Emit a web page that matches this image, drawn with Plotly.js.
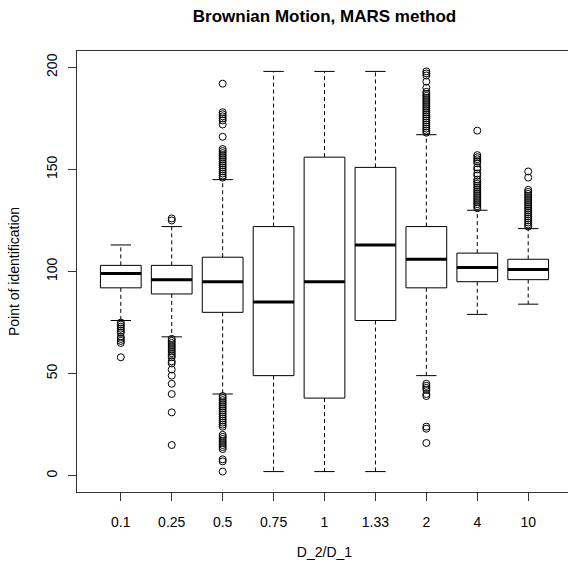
<!DOCTYPE html>
<html>
<head>
<meta charset="utf-8">
<script src="https://cdn.plot.ly/plotly-3.0.1.min.js"></script>
<style>
html,body{margin:0;padding:0;overflow:hidden;background:#fff;}
#chart{width:575px;height:562px;}
</style>
</head>
<body>
<div id="chart"></div>
<script>
const categories = ['0.1','0.25','0.5','0.75','1','1.33','2','4','10'];
const whiskerLow  = [76, 68, 40, 2, 2, 2, 49, 79, 84];
const q1          = [92, 89, 80, 49, 38, 76, 92, 95, 96];
const median      = [99, 96, 95, 85, 95, 113, 106, 102, 101];
const q3          = [103, 103, 107, 122, 156, 151, 122, 109, 106];
const whiskerHigh = [113, 122, 145, 198, 198, 198, 167, 130, 121];

const out_01  = [75, 74, 73, 72, 71, 70, 68, 67, 66, 65, 58];
const out_025 = [126, 125, 67, 66, 65, 64, 63, 62, 61, 60, 59, 58, 56, 55, 52, 49, 45, 40, 31, 15];
const out_05  = [192, 178, 177, 176, 175, 174, 172, 166, 160, 159, 158, 157, 156, 155, 154, 153, 152, 151, 150, 149, 148, 147, 146,
                 39, 38, 37, 36, 35, 34, 33, 32, 31, 30, 29, 28, 27, 26, 25, 24, 20, 19, 18, 17, 16, 15, 14, 13, 8, 7, 2];
const out_075 = [];
const out_1   = [];
const out_133 = [];
const out_2   = [198, 197, 196, 193, 190, 188, 187, 186, 185, 184, 183, 182, 181, 180, 179, 178, 177, 176, 175, 174, 173, 172, 171, 170, 169, 168,
                 45, 44, 43, 42, 40, 39, 24, 23, 16];
const out_4   = [169, 157, 156, 155, 154, 153, 151, 150, 148, 147, 145, 144, 143, 142, 141, 140, 139, 138, 137, 136, 135, 134, 133, 132, 131];
const out_10  = [149, 146, 140, 139, 138, 137, 136, 135, 134, 133, 132, 131, 130, 129, 128, 127, 126, 125, 124, 123, 122];
const outliers = [out_01, out_025, out_05, out_075, out_1, out_133, out_2, out_4, out_10];

const BOX_HALF = 0.4, STAPLE_HALF = 0.2;
const pos = categories.map((c, i) => i + 1);

const boxX = [], boxY = [], medX = [], medY = [], whX = [], whY = [], stX = [], stY = [], oX = [], oY = [];
pos.forEach((p, i) => {
  boxX.push(p - BOX_HALF, p + BOX_HALF, p + BOX_HALF, p - BOX_HALF, p - BOX_HALF, null);
  boxY.push(q1[i], q1[i], q3[i], q3[i], q1[i], null);
  medX.push(p - BOX_HALF, p + BOX_HALF, null);
  medY.push(median[i], median[i], null);
  whX.push(p, p, null, p, p, null);
  whY.push(q3[i], whiskerHigh[i], null, q1[i], whiskerLow[i], null);
  stX.push(p - STAPLE_HALF, p + STAPLE_HALF, null, p - STAPLE_HALF, p + STAPLE_HALF, null);
  stY.push(whiskerHigh[i], whiskerHigh[i], null, whiskerLow[i], whiskerLow[i], null);
  outliers[i].forEach(v => { oX.push(p); oY.push(v); });
});

const font = 'Liberation Sans, Arial, sans-serif';
const traces = [
  {x: whX, y: whY, mode: 'lines', line: {color: '#000', width: 1, dash: '4px,3px'}, hoverinfo: 'skip'},
  {x: stX, y: stY, mode: 'lines', line: {color: '#000', width: 1}, hoverinfo: 'skip'},
  {x: boxX, y: boxY, mode: 'lines', line: {color: '#000', width: 1}, fill: 'toself', fillcolor: '#fff', hoverinfo: 'skip'},
  {x: medX, y: medY, mode: 'lines', line: {color: '#000', width: 3}, hoverinfo: 'skip'},
  {x: oX, y: oY, mode: 'markers', marker: {symbol: 'circle-open', size: 7, color: '#000', line: {width: 1}}, hoverinfo: 'skip'}
];

const layout = {
  width: 575, height: 562,
  margin: {l: 77, r: 3, t: 51, b: 70},
  paper_bgcolor: '#fff', plot_bgcolor: '#fff',
  showlegend: false,
  font: {family: font, size: 14, color: '#000'},
  title: {text: '<b>Brownian Motion, MARS method</b>', font: {family: font, size: 17, color: '#000'},
          x: 0.5, xref: 'paper', y: 1 - 16/562, yref: 'container', yanchor: 'middle'},
  xaxis: {
    range: [0.14, 9.86], tickmode: 'array', tickvals: pos, ticktext: categories,
    showgrid: false, zeroline: false, showline: true, mirror: true, linecolor: '#333', linewidth: 1,
    ticks: 'outside', ticklen: 8, tickcolor: '#333', tickwidth: 1, ticklabelstandoff: 9,
    tickfont: {family: font, size: 14, color: '#000'},
    title: {text: 'D_2/D_1', font: {family: font, size: 14, color: '#000'}, standoff: 18}
  },
  yaxis: {
    range: [-8, 208], tickmode: 'array', tickvals: [0, 50, 100, 150, 200],
    showgrid: false, zeroline: false, showline: true, mirror: true, linecolor: '#333', linewidth: 1,
    ticks: 'outside', ticklen: 8, tickcolor: '#333', tickwidth: 1, tickangle: -90, ticklabelstandoff: 5,
    tickfont: {family: font, size: 14, color: '#000'},
    title: {text: 'Point of identification', font: {family: font, size: 14, color: '#000'}, standoff: 21}
  }
};

Plotly.newPlot('chart', traces, layout, {staticPlot: true, displayModeBar: false});
</script>
</body>
</html>
